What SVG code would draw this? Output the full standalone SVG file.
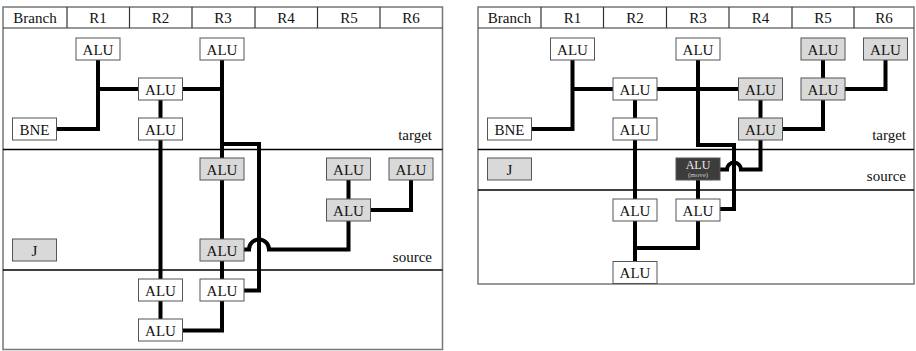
<svg xmlns="http://www.w3.org/2000/svg" width="916" height="351" viewBox="0 0 916 351" font-family="'Liberation Serif', 'Times New Roman', 'DejaVu Serif', serif">
<style>
.frame{fill:none;stroke:#777;stroke-width:1.5}
.hl{stroke:#333;stroke-width:1.2}
.div{stroke:#000;stroke-width:1.5}
.b{fill:#fff;stroke:#555;stroke-width:1}
.g{fill:#d9d9d9;stroke:#555;stroke-width:1}
.d{fill:#3c3c3c;stroke:#555;stroke-width:1}
.t{font-family:'Liberation Serif','Times New Roman',serif;font-size:15px;fill:#111}
.c{text-anchor:middle}
.r{text-anchor:end}
.w{fill:none;stroke:#000;stroke-width:4;stroke-linejoin:miter;stroke-linecap:butt}
</style>
<rect width="916" height="351" fill="#fff"/>

<!-- LEFT DIAGRAM FRAME -->
<g id="left-frame">
<rect class="frame" x="3" y="7" width="439.5" height="342.5"/>
<line class="hl" x1="3" y1="28" x2="442.5" y2="28"/>
<line class="hl" x1="67" y1="7" x2="67" y2="28"/>
<line class="hl" x1="129.5" y1="7" x2="129.5" y2="28"/>
<line class="hl" x1="192" y1="7" x2="192" y2="28"/>
<line class="hl" x1="255" y1="7" x2="255" y2="28"/>
<line class="hl" x1="317.5" y1="7" x2="317.5" y2="28"/>
<line class="hl" x1="380" y1="7" x2="380" y2="28"/>
<line class="div" x1="3" y1="149.5" x2="442.5" y2="149.5"/>
<line class="div" x1="3" y1="270" x2="442.5" y2="270"/>
<text class="t c" x="35" y="22.5">Branch</text>
<text class="t c" x="98" y="22.5">R1</text>
<text class="t c" x="160.5" y="22.5">R2</text>
<text class="t c" x="223" y="22.5">R3</text>
<text class="t c" x="286" y="22.5">R4</text>
<text class="t c" x="349" y="22.5">R5</text>
<text class="t c" x="411" y="22.5">R6</text>
<text class="t r" x="432" y="140">target</text>
<text class="t r" x="432" y="262">source</text>
</g>

<!-- RIGHT DIAGRAM FRAME -->
<g id="right-frame">
<rect class="frame" x="478" y="7" width="436" height="277"/>
<line class="hl" x1="478" y1="28" x2="914" y2="28"/>
<line class="hl" x1="541" y1="7" x2="541" y2="28"/>
<line class="hl" x1="603.5" y1="7" x2="603.5" y2="28"/>
<line class="hl" x1="666.5" y1="7" x2="666.5" y2="28"/>
<line class="hl" x1="729" y1="7" x2="729" y2="28"/>
<line class="hl" x1="792" y1="7" x2="792" y2="28"/>
<line class="hl" x1="854" y1="7" x2="854" y2="28"/>
<line class="div" x1="478" y1="149.5" x2="914" y2="149.5"/>
<line class="div" x1="478" y1="190" x2="914" y2="190"/>
<text class="t c" x="509.5" y="22.5">Branch</text>
<text class="t c" x="572.5" y="22.5">R1</text>
<text class="t c" x="635" y="22.5">R2</text>
<text class="t c" x="698" y="22.5">R3</text>
<text class="t c" x="760.5" y="22.5">R4</text>
<text class="t c" x="823" y="22.5">R5</text>
<text class="t c" x="884" y="22.5">R6</text>
<text class="t r" x="906" y="140">target</text>
<text class="t r" x="906" y="181">source</text>
</g>

<!-- CONNECTORS -->
<g id="connectors">
<path class="w" d="M98,60 V129 H57"/>
<path class="w" d="M98,89 H138.5"/>
<path class="w" d="M182.5,89 H222"/>
<path class="w" d="M222,60 V158"/>
<path class="w" d="M222,144 H259 V290.5 H244"/>
<path class="w" d="M160.5,100 V118"/>
<path class="w" d="M160.5,140 V279"/>
<path class="w" d="M160.5,301 V319"/>
<path class="w" d="M222,180 V239"/>
<path class="w" d="M222,261 V279"/>
<path class="w" d="M222,301 V330.5 H182.5"/>
<path class="w" d="M244,249.5 H249 A10,10 0 0 1 269,249.5 H348.5 V221"/>
<path class="w" d="M348.5,180 V199"/>
<path class="w" d="M371,210 H411 V180"/>

<path class="w" d="M572.5,60 V129 H531.5"/>
<path class="w" d="M572.5,89 H613"/>
<path class="w" d="M657,89 H738.5"/>
<path class="w" d="M698,60 V145 H734 V209 H720"/>
<path class="w" d="M635,100 V118"/>
<path class="w" d="M635,140 V199"/>
<path class="w" d="M635,221 V262"/>
<path class="w" d="M635,248 H698 V221"/>
<path class="w" d="M698,180 V199"/>
<path class="w" d="M720,169.5 H727 A7,7 0 0 1 741,169.5 H760.5 V140"/>
<path class="w" d="M760.5,100 V118"/>
<path class="w" d="M782.5,129 H823 V100"/>
<path class="w" d="M823,60 V78"/>
<path class="w" d="M845,89 H885.5 V60"/>
</g>

<!-- LEFT NODES -->
<g id="L-R1-alu"><rect class="b" x="76" y="38" width="44" height="22"/><text class="t c" x="98" y="54.5">ALU</text></g>
<g id="L-R3-alu"><rect class="b" x="200" y="38" width="44" height="22"/><text class="t c" x="222" y="54.5">ALU</text></g>
<g id="L-R2-alu1"><rect class="b" x="138.5" y="78" width="44" height="22"/><text class="t c" x="160.5" y="94.5">ALU</text></g>
<g id="L-R2-alu2"><rect class="b" x="138.5" y="118" width="44" height="22"/><text class="t c" x="160.5" y="134.5">ALU</text></g>
<g id="L-bne"><rect class="b" x="12.5" y="118" width="44" height="22"/><text class="t c" x="34.5" y="134.5">BNE</text></g>
<g id="L-R3-src1"><rect class="g" x="200" y="158" width="44" height="22"/><text class="t c" x="222" y="174.5">ALU</text></g>
<g id="L-R5-src1"><rect class="g" x="326.5" y="158" width="44" height="22"/><text class="t c" x="348.5" y="174.5">ALU</text></g>
<g id="L-R6-src1"><rect class="g" x="389" y="158" width="44" height="22"/><text class="t c" x="411" y="174.5">ALU</text></g>
<g id="L-R5-src2"><rect class="g" x="326.5" y="199" width="44" height="22"/><text class="t c" x="348.5" y="215.5">ALU</text></g>
<g id="L-R3-src2"><rect class="g" x="200" y="239" width="44" height="22"/><text class="t c" x="222" y="255.5">ALU</text></g>
<g id="L-j"><rect class="g" x="12.5" y="239" width="44" height="22"/><text class="t c" x="34.5" y="255.5">J</text></g>
<g id="L-R2-low1"><rect class="b" x="138.5" y="279" width="44" height="22"/><text class="t c" x="160.5" y="295.5">ALU</text></g>
<g id="L-R3-low1"><rect class="b" x="200" y="279" width="44" height="22"/><text class="t c" x="222" y="295.5">ALU</text></g>
<g id="L-R2-low2"><rect class="b" x="138.5" y="319" width="44" height="22"/><text class="t c" x="160.5" y="335.5">ALU</text></g>

<!-- RIGHT NODES -->
<g id="R-R1-alu"><rect class="b" x="550.5" y="38" width="44" height="22"/><text class="t c" x="572.5" y="54.5">ALU</text></g>
<g id="R-R3-alu"><rect class="b" x="676" y="38" width="44" height="22"/><text class="t c" x="698" y="54.5">ALU</text></g>
<g id="R-R5-alu1"><rect class="g" x="801" y="38" width="44" height="22"/><text class="t c" x="823" y="54.5">ALU</text></g>
<g id="R-R6-alu1"><rect class="g" x="863.5" y="38" width="44" height="22"/><text class="t c" x="885.5" y="54.5">ALU</text></g>
<g id="R-R2-alu1"><rect class="b" x="613" y="78" width="44" height="22"/><text class="t c" x="635" y="94.5">ALU</text></g>
<g id="R-R4-alu1"><rect class="g" x="738.5" y="78" width="44" height="22"/><text class="t c" x="760.5" y="94.5">ALU</text></g>
<g id="R-R5-alu2"><rect class="g" x="801" y="78" width="44" height="22"/><text class="t c" x="823" y="94.5">ALU</text></g>
<g id="R-bne"><rect class="b" x="487.5" y="118" width="44" height="22"/><text class="t c" x="509.5" y="134.5">BNE</text></g>
<g id="R-R2-alu2"><rect class="b" x="613" y="118" width="44" height="22"/><text class="t c" x="635" y="134.5">ALU</text></g>
<g id="R-R4-alu2"><rect class="g" x="738.5" y="118" width="44" height="22"/><text class="t c" x="760.5" y="134.5">ALU</text></g>
<g id="R-j"><rect class="g" x="487.5" y="158" width="44" height="22"/><text class="t c" x="509.5" y="174.5">J</text></g>
<g id="R-move"><rect class="d" x="676" y="158" width="44" height="22"/><text class="t c" x="698" y="169" style="font-size:12px;fill:#eee">ALU</text><text class="t c" x="698" y="177" style="font-size:7px;fill:#ccc">(move)</text></g>
<g id="R-R2-low1"><rect class="b" x="613" y="199" width="44" height="22"/><text class="t c" x="635" y="215.5">ALU</text></g>
<g id="R-R3-low1"><rect class="b" x="676" y="199" width="44" height="22"/><text class="t c" x="698" y="215.5">ALU</text></g>
<g id="R-R2-low2"><rect class="b" x="613" y="261.5" width="44" height="22"/><text class="t c" x="635" y="278">ALU</text></g>
</svg>
